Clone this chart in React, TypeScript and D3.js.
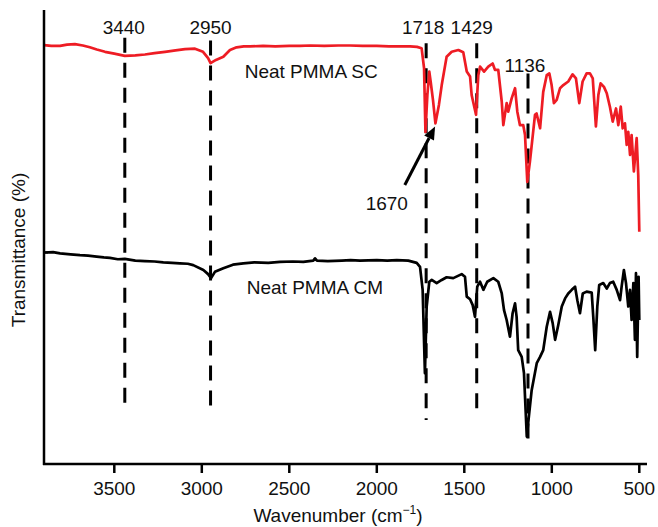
import React from "react";
import * as d3 from "d3";

// ---------- data ----------
const xTicks = [3500, 3000, 2500, 2000, 1500, 1000, 500];

// Neat PMMA SC (red) : wavenumber, transmittance (arb.)
const scWave = [3900, 3860, 3810, 3770, 3725, 3680, 3640, 3600, 3553, 3500, 3440, 3380, 3325, 3270, 3210, 3150, 3096, 3039, 2993, 2964, 2950, 2919, 2877, 2839, 2801, 2760, 2725, 2650, 2580, 2500, 2439, 2380, 2300, 2220, 2153, 2080, 2000, 1930, 1867, 1810, 1770, 1744, 1730, 1722, 1711, 1700, 1692, 1679, 1665, 1645, 1629, 1601, 1572, 1534, 1506, 1486, 1467, 1458, 1433, 1420, 1410, 1387, 1363, 1338, 1325, 1306, 1286, 1277, 1258, 1249, 1229, 1210, 1197, 1182, 1163, 1153, 1140, 1125, 1096, 1087, 1067, 1049, 1029, 1014, 1001, 988, 972, 953, 934, 906, 881, 862, 843, 824, 801, 782, 766, 748, 734, 721, 702, 686, 668, 652, 633, 620, 606, 595, 582, 572, 563, 553, 544, 531, 515, 506, 500];
const scT = [93.1, 92.9, 92.9, 93.2, 93.3, 93.0, 92.6, 92.1, 91.6, 91.2, 90.7, 90.8, 91.0, 91.3, 91.6, 91.9, 92.2, 92.3, 91.6, 90.2, 89.1, 89.8, 90.5, 92.0, 92.6, 92.8, 92.8, 92.9, 92.8, 92.9, 92.9, 93.0, 92.9, 93.0, 93.0, 92.9, 92.9, 92.8, 92.8, 92.8, 92.7, 92.4, 88.0, 73.8, 82.0, 87.2, 84.9, 80.9, 75.7, 79.8, 84.2, 90.5, 91.6, 92.0, 91.5, 87.2, 86.1, 82.0, 77.6, 86.4, 88.3, 87.2, 88.3, 89.0, 87.6, 87.6, 80.5, 75.3, 80.2, 78.3, 81.3, 83.5, 78.3, 75.3, 75.3, 73.1, 62.7, 67.2, 77.6, 77.9, 74.6, 82.7, 86.4, 86.8, 84.2, 80.2, 80.9, 83.5, 84.2, 85.0, 86.6, 85.7, 80.2, 85.0, 86.8, 86.8, 85.7, 75.0, 82.0, 84.6, 83.8, 82.4, 79.4, 76.1, 79.0, 75.3, 79.4, 74.6, 75.7, 70.9, 73.8, 68.7, 73.1, 65.0, 72.4, 64.2, 51.6];

// Neat PMMA CM (black)
const cmWave = [3900, 3850, 3810, 3750, 3696, 3650, 3601, 3560, 3525, 3480, 3440, 3380, 3325, 3270, 3220, 3170, 3125, 3080, 3049, 2991, 2964, 2947, 2925, 2877, 2822, 2763, 2700, 2620, 2553, 2480, 2420, 2363, 2353, 2342, 2280, 2200, 2150, 2096, 2000, 1940, 1886, 1820, 1772, 1753, 1738, 1725, 1715, 1700, 1686, 1658, 1629, 1601, 1563, 1515, 1496, 1486, 1467, 1452, 1439, 1426, 1410, 1391, 1369, 1334, 1306, 1286, 1273, 1258, 1239, 1224, 1210, 1201, 1192, 1172, 1159, 1143, 1129, 1115, 1086, 1067, 1049, 1029, 1010, 995, 981, 963, 943, 924, 906, 886, 867, 854, 839, 823, 801, 772, 763, 752, 740, 729, 706, 686, 668, 649, 629, 610, 601, 588, 576, 563, 553, 544, 534, 525, 519, 512, 504, 500];
const cmT = [47.0, 47.1, 46.8, 46.6, 46.4, 46.3, 46.1, 45.9, 45.8, 45.5, 45.6, 45.2, 45.1, 45.0, 44.8, 44.7, 44.6, 44.5, 44.2, 43.1, 42.2, 41.3, 42.7, 43.5, 44.3, 44.6, 44.8, 44.7, 44.9, 45.0, 44.9, 45.2, 45.7, 45.2, 45.1, 45.2, 45.3, 45.2, 45.3, 45.2, 45.3, 45.2, 44.7, 43.8, 38.7, 20.2, 35.0, 40.5, 40.9, 40.2, 40.9, 41.5, 41.3, 42.2, 41.6, 37.2, 36.6, 35.3, 32.7, 39.4, 40.5, 38.7, 40.5, 41.3, 40.5, 37.9, 34.2, 32.0, 28.3, 33.5, 35.7, 32.7, 25.3, 23.8, 20.2, 6.1, 11.3, 16.4, 22.4, 23.8, 25.3, 30.5, 33.8, 31.3, 27.6, 30.9, 35.0, 36.8, 37.9, 38.7, 39.4, 36.4, 33.5, 37.9, 38.3, 38.1, 32.7, 25.3, 35.0, 39.8, 40.2, 39.0, 40.2, 40.5, 38.7, 36.4, 39.4, 43.1, 40.2, 35.0, 38.7, 32.0, 40.2, 27.6, 42.4, 23.8, 41.6, 32.0];

// peak markers
const peakWave = [3440, 2950, 1718, 1429, 1136];
const peakLabels = ["3440", "2950", "1718", "1429", "1136"];
const peakTop = [94.7, 94.1, 93.5, 93.5, 86.8];
const peakBottom = [12.7, 10.9, 9.8, 10.7, 3.5];
const peakLabelT = [97.2, 97.2, 97.2, 97.2, 88.7];
const peakLabelShift = [-1, 0, -3, -5, -3];

// series labels
const seriesNames = ["Neat PMMA SC", "Neat PMMA CM"];
const seriesLabelWave = [2755, 2743];
const seriesLabelT = [85.7, 37.8];

// 1670 annotation
const arrowLabel = "1670";
const arrowFrom = [1840, 62];
const arrowTo = [1667, 75];

const W = 658;
const H = 527;
const FONT = "'Liberation Sans', Arial, Helvetica, sans-serif";

export default function App() {
  const x = d3.scaleLinear().domain([3500, 500]).range([114.3, 639.3]);
  const y = d3.scaleLinear().domain([0, 100]).range([464, 14]);
  const xLeft = x.invert(44);
  const xRight = x.invert(647);

  const line = d3
    .line<[number, number]>()
    .x((d) => x(d[0]))
    .y((d) => y(d[1]));

  const sc = scWave.map((w, i) => [w, scT[i]] as [number, number]);
  const cm = cmWave.map((w, i) => [w, cmT[i]] as [number, number]);

  const ax0 = x(arrowFrom[0]);
  const ay0 = y(arrowFrom[1]);
  const ax1 = x(arrowTo[0]);
  const ay1 = y(arrowTo[1]);
  const ang = Math.atan2(ay1 - ay0, ax1 - ax0);
  const hl = 13;
  const hw = 5.5;
  const bx = ax1 - hl * Math.cos(ang);
  const by = ay1 - hl * Math.sin(ang);
  const head = [
    [ax1, ay1],
    [bx + hw * Math.sin(ang), by - hw * Math.cos(ang)],
    [bx - hw * Math.sin(ang), by + hw * Math.cos(ang)],
  ]
    .map((p) => p.join(","))
    .join(" ");

  return (
    <svg
      width={W}
      height={H}
      style={{ position: "absolute", left: 0, top: 0, background: "#fff" }}
      fontFamily={FONT}
    >
      <rect width={W} height={H} fill="#fff" />
      {/* dashed peak lines */}
      {peakWave.map((w, i) => (
        <line
          key={"d" + i}
          x1={x(w)}
          x2={x(w)}
          y1={y(peakTop[i])}
          y2={y(peakBottom[i])}
          stroke="#000"
          strokeWidth={3}
          strokeDasharray="15,10"
        />
      ))}
      {/* curves */}
      <path d={line(cm) || ""} fill="none" stroke="#000" strokeWidth={2.7} strokeLinejoin="round" />
      <path d={line(sc) || ""} fill="none" stroke="#ee1c24" strokeWidth={2.7} strokeLinejoin="round" />

      {/* axes */}
      <line x1={x(xLeft)} x2={x(xLeft)} y1={10} y2={y(0) + 1} stroke="#000" strokeWidth={2.5} />
      <line x1={x(xLeft) - 1} x2={x(xRight)} y1={y(0)} y2={y(0)} stroke="#000" strokeWidth={2.5} />
      <line x1={x(xLeft)} x2={x(xLeft) + 4} y1={y(47)} y2={y(47)} stroke="#000" strokeWidth={2} />
      {xTicks.map((t) => (
        <g key={t}>
          <line x1={x(t)} x2={x(t)} y1={y(0)} y2={y(0) + 9} stroke="#000" strokeWidth={2.5} />
          <text x={x(t)} y={495} textAnchor="middle" fontSize={19} fill="#111">
            {t}
          </text>
        </g>
      ))}
      <text x={338} y={522} textAnchor="middle" fontSize={19} fill="#111">
        Wavenumber (cm
        <tspan fontSize={12} dy={-8}>−1</tspan>
        <tspan dy={8}>)</tspan>
      </text>
      <text
        transform="translate(25,250) rotate(-90)"
        textAnchor="middle"
        fontSize={19}
        fill="#111"
      >
        Transmittance (%)
      </text>

      {/* peak labels */}
      {peakLabels.map((l, i) => (
        <text
          key={"l" + i}
          x={x(peakWave[i]) + peakLabelShift[i]}
          y={y(peakLabelT[i]) + 7}
          textAnchor="middle"
          fontSize={19}
          fill="#111"
        >
          {l}
        </text>
      ))}
      {/* series labels */}
      {seriesNames.map((n, i) => (
        <text key={n} x={x(seriesLabelWave[i])} y={y(seriesLabelT[i])} fontSize={19} fill="#111">
          {n}
        </text>
      ))}
      {/* arrow */}
      <line x1={ax0} y1={ay0} x2={bx} y2={by} stroke="#000" strokeWidth={3} />
      <polygon points={head} fill="#000" />
      <text x={x(arrowFrom[0]) - 18} y={209.5} textAnchor="middle" fontSize={19} fill="#111">
        {arrowLabel}
      </text>
    </svg>
  );
}
